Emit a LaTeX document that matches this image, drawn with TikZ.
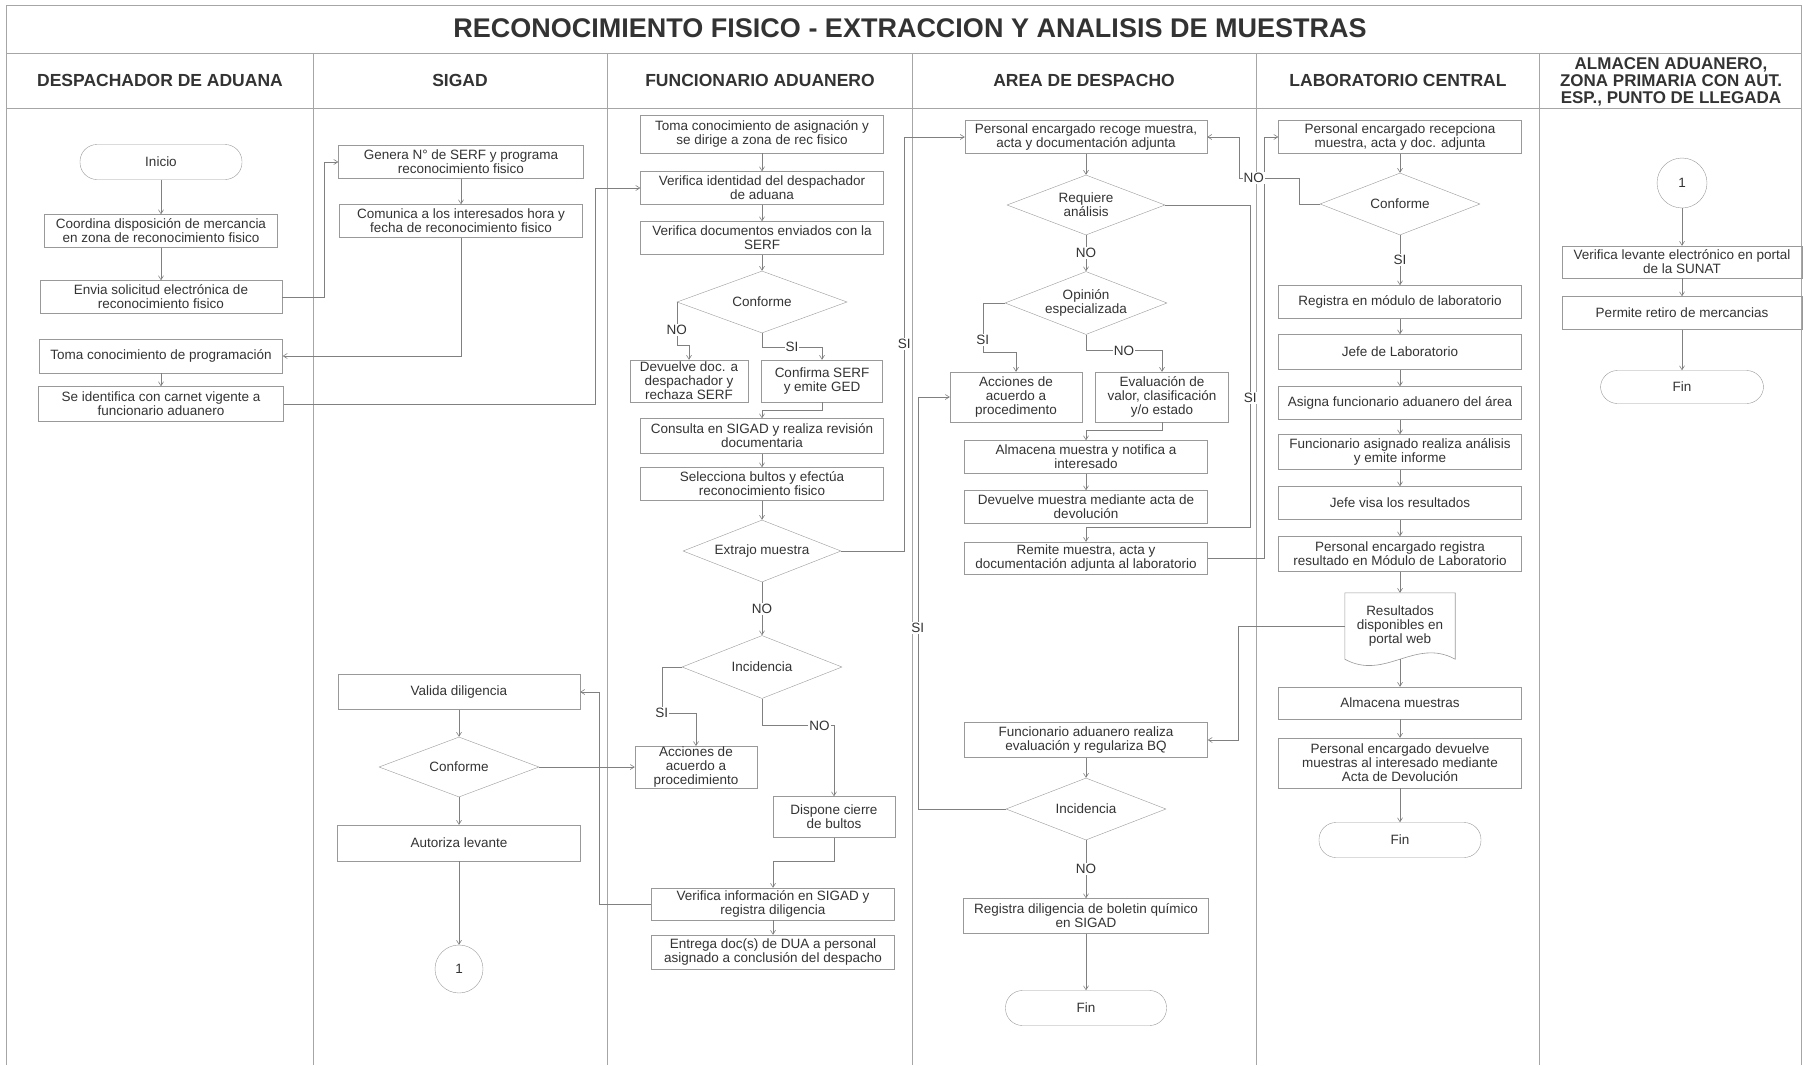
\documentclass[tikz,border=0pt]{standalone}
\usepackage{fontspec}
\setmainfont{Liberation Sans}
\usetikzlibrary{shapes.geometric,arrows.meta}

\definecolor{txt}{gray}{0.2}
\definecolor{boxgray}{gray}{0.6}
\definecolor{linegray}{gray}{0.5}
\definecolor{lanegray}{gray}{0.65}

\newcommand{\boxfont}{\fontsize{13.5}{14}\selectfont}
\newcommand{\headfont}{\fontsize{17.5}{20}\selectfont\bfseries}
\newcommand{\titlefont}{\fontsize{27}{30}\selectfont\bfseries}

\tikzset{
  box/.style={draw=boxgray, rectangle, align=center, inner sep=0.5pt,
    minimum width=243pt, minimum height=33pt, font=\boxfont},
  sbox/.style={box, minimum width=121pt, minimum height=42pt},
  decision/.style={draw=boxgray, diamond, aspect=2.6, inner sep=0pt, align=center,
    minimum width=160pt, minimum height=62pt, font=\boxfont},
  terminal/.style={draw=boxgray, rectangle, rounded corners=17pt,
    minimum width=162pt, minimum height=35pt, font=\boxfont},
  connector/.style={draw=boxgray, circle, minimum size=48pt, font=\boxfont},
  docnode/.style={rectangle, align=center, inner sep=0.5pt,
    minimum width=110pt, minimum height=66pt, font=\boxfont},
  boxline/.style={draw=boxgray, line width=0.6pt},
  lbl/.style={fill=white, inner sep=1pt, font=\boxfont},
  arr/.style={draw=linegray, line width=0.6pt, -{Straight Barb[length=4pt,width=5pt]}},
  lane/.style={draw=lanegray, line width=0.8pt},
  head/.style={font=\headfont, align=center}
}

\begin{document}
\begin{tikzpicture}[x=1pt, y=-1pt, text=txt]
\useasboundingbox (0,0) rectangle (1803,1065);

% lanes
\draw[lane] (6,1065) -- (6,5) -- (1801,5) -- (1801,1065);
\draw[lane] (6,53) -- (1801,53);
\draw[lane] (6,108) -- (1801,108);
\foreach \x in {313,607,912,1256,1539}
  \draw[lane] (\x,53) -- (\x,1065);

\node[font=\titlefont] (title) at (910,28) {RECONOCIMIENTO FISICO - EXTRACCION Y ANALISIS DE MUESTRAS};
\node[head] (hdesp) at (160,80) {DESPACHADOR DE ADUANA};
\node[head] (hsigad) at (460,80) {SIGAD};
\node[head] (hfunc) at (760,80) {FUNCIONARIO ADUANERO};
\node[head] (harea) at (1084,80) {AREA DE DESPACHO};
\node[head] (hlab) at (1398,80) {LABORATORIO CENTRAL};
\node[head, font=\fontsize{17}{17}\selectfont\bfseries] (halm) at (1671,82)
  {ALMACEN ADUANERO,\\ZONA PRIMARIA CON AUT.\\ESP., PUNTO DE LLEGADA};

% despachador de aduana
\node[terminal] (ini) at (161,162) {Inicio};
\node[box, minimum width=233pt] (coord) at (161,231) {Coordina disposición de mercancia\\en zona de reconocimiento fisico};
\node[box, minimum width=242pt] (envia) at (161,297) {Envia solicitud electrónica de\\reconocimiento fisico};
\node[box, minimum height=34pt] (tomaprog) at (161,356) {Toma conocimiento de programación};
\node[box, minimum width=245pt, minimum height=35pt] (ident) at (161,404) {Se identifica con carnet vigente a\\funcionario aduanero};

% sigad
\node[box, minimum width=245pt] (genera) at (461,162) {Genera N° de SERF y programa\\reconocimiento fisico};
\node[box] (comunica) at (461,221) {Comunica a los interesados hora y\\fecha de reconocimiento fisico};
\node[box, minimum width=242pt, minimum height=35pt] (valida) at (459,692) {Valida diligencia};
\node[decision, minimum height=60pt] (confsig) at (459,767) {Conforme};
\node[box, minimum height=36pt] (autoriza) at (459,843) {Autoriza levante};
\node[connector] (uno) at (459,969) {1};

% funcionario aduanero
\node[box, minimum height=38pt] (tomaasig) at (762,134) {Toma conocimiento de asignación y\\se dirige a zona de rec fisico};
\node[box] (verid) at (762,188) {Verifica identidad del despachador\\de aduana};
\node[box] (verdoc) at (762,238) {Verifica documentos enviados con la\\SERF};
\node[decision, minimum width=170pt] (confdoc) at (762,302) {Conforme};
\node[sbox, minimum width=118pt] (devdoc) at (689,381) {Devuelve doc. a\\despachador y\\rechaza SERF};
\node[sbox] (confserf) at (822,381) {Confirma SERF\\y emite GED};
\node[box, minimum height=35pt] (consulta) at (762,436) {Consulta en SIGAD y realiza revisión\\documentaria};
\node[box] (selec) at (762,484) {Selecciona bultos y efectúa\\reconocimiento fisico};
\node[decision, minimum width=158pt] (extrajo) at (762,551) {Extrajo muestra};
\node[decision, minimum height=63pt] (incfun) at (762,667) {Incidencia};
\node[sbox, minimum width=122pt, minimum height=40pt] (accfun) at (696,767) {Acciones de\\acuerdo a\\procedimiento};
\node[sbox, minimum width=122pt, minimum height=41pt] (dispone) at (834,817) {Dispone cierre\\de bultos};
\node[box, minimum height=32pt] (verinfo) at (773,904) {Verifica información en SIGAD y\\registra diligencia};
\node[box, minimum height=34pt] (entrega) at (773,952) {Entrega doc(s) de DUA a personal\\asignado a conclusión del despacho};

% area de despacho
\node[box, minimum width=242pt] (recoge) at (1086,137) {Personal encargado recoge muestra,\\acta y documentación adjunta};
\node[decision, minimum width=158pt, minimum height=60pt] (requiere) at (1086,205) {Requiere\\análisis};
\node[decision, minimum width=162pt, minimum height=63pt] (opinion) at (1086,303) {Opinión\\especializada};
\node[sbox, minimum width=132pt, minimum height=50pt] (accarea) at (1016,397) {Acciones de\\acuerdo a\\procedimento};
\node[sbox, minimum width=133pt, minimum height=50pt] (evalua) at (1162,397) {Evaluación de\\valor, clasificación\\y/o estado};
\node[box] (almmue) at (1086,457) {Almacena muestra y notifica a\\interesado};
\node[box] (devmue) at (1086,507) {Devuelve muestra mediante acta de\\devolución};
\node[box, minimum height=32pt] (remite) at (1086,558) {Remite muestra, acta y\\documentación adjunta al laboratorio};
\node[box, minimum height=35pt] (funreal) at (1086,740) {Funcionario aduanero realiza\\evaluación y regulariza BQ};
\node[decision] (incarea) at (1086,809) {Incidencia};
\node[box, minimum width=245pt, minimum height=35pt] (regdil) at (1086,916) {Registra diligencia de boletin químico\\en SIGAD};
\node[terminal, minimum width=161pt] (finarea) at (1086,1008) {Fin};

% laboratorio central
\node[box] (recep) at (1400,137) {Personal encargado recepciona\\muestra, acta y doc. adjunta};
\node[decision] (conflab) at (1400,204) {Conforme};
\node[box] (regmod) at (1400,302) {Registra en módulo de laboratorio};
\node[box, minimum height=35pt] (jefe) at (1400,352) {Jefe de Laboratorio};
\node[box] (asigna) at (1400,403) {Asigna funcionario aduanero del área};
\node[box, minimum height=35pt] (funasig) at (1400,452) {Funcionario asignado realiza análisis\\y emite informe};
\node[box] (visa) at (1400,503) {Jefe visa los resultados};
\node[box, minimum height=35pt] (regres) at (1400,554) {Personal encargado registra\\resultado en Módulo de Laboratorio};
\node[docnode] (result) at (1400,626) {Resultados\\disponibles en\\portal web};
\draw[boxline] (result.north west) -- (result.north east) -- (result.south east)
  .. controls +(-40,-22) and +(40,22) .. (result.south west) -- cycle;
\node[box, minimum height=32pt] (almlab) at (1400,703) {Almacena muestras};
\node[box, minimum height=50pt] (devlab) at (1400,763) {Personal encargado devuelve\\muestras al interesado mediante\\Acta de Devolución};
\node[terminal] (finlab) at (1400,840) {Fin};

% almacen aduanero
\node[connector, minimum size=50pt] (unob) at (1682,183) {1};
\node[box, minimum width=240pt, minimum height=32pt] (verlev) at (1682,262) {Verifica levante electrónico en portal\\de la SUNAT};
\node[box, minimum width=240pt] (permite) at (1682,313) {Permite retiro de mercancias};
\node[terminal, minimum width=163pt, minimum height=33pt] (finalm) at (1682,387) {Fin};

% despachador
\draw[arr] (ini) -- (coord);
\draw[arr] (coord) -- (envia);
\draw[arr] (tomaprog) -- (ident);
\draw[arr] (envia.east) -- ++(42,0) |- (genera.west);
\draw[arr] (ident.east) -- ++(312,0) |- (verid.west);

% sigad
\draw[arr] (genera) -- (comunica);
\draw[arr] (comunica.south) |- (tomaprog.east);
\draw[arr] (valida) -- (confsig);
\draw[arr] (confsig) -- (autoriza);
\draw[arr] (autoriza) -- (uno);
\draw[arr] (confsig.east) -- (accfun.west);
\draw[arr] (verinfo.west) -- ++(-52,0) |- (valida.east);

% funcionario
\draw[arr] (tomaasig) -- (verid);
\draw[arr] (verid) -- (verdoc);
\draw[arr] (verdoc) -- (confdoc);
\draw[arr] (confdoc.west) -- ++(0,43) node[lbl, pos=0.65] {NO} -| (devdoc.north);
\draw[arr] (confdoc.south) -- ++(0,14) -| node[lbl, pos=0.25] {SI} (confserf.north);
\draw[arr] (confserf.south) -- ++(0,8) -| (consulta.north);
\draw[arr] (consulta) -- (selec);
\draw[arr] (selec) -- (extrajo);
\draw[arr] (extrajo.east) -- ++(63,0) |- node[lbl, pos=0.25] {SI} (recoge.west);
\draw[arr] (extrajo) -- node[lbl] {NO} (incfun);
\draw[arr] (incfun.west) -- ++(-20,0) -- ++(0,46) node[lbl] {SI} -| (accfun.north);
\draw[arr] (incfun.south) -- ++(0,27) -| node[lbl, pos=0.4] {NO} (dispone.north);
\draw[arr] (dispone.south) -- ++(0,24) -| (verinfo.north);
\draw[arr] (verinfo) -- (entrega);

% area de despacho
\draw[arr] (recoge) -- (requiere);
\draw[arr] (requiere) -- node[lbl] {NO} (opinion);
\draw[arr] (requiere.east) -- ++(85,0) -- ++(0,322) node[lbl, pos=0.6] {SI} -| (remite.north);
\draw[arr] (opinion.west) -- ++(-22,0) -- ++(0,49) node[lbl, pos=0.75] {SI} -| (accarea.north);
\draw[arr] (opinion.south) -- ++(0,16) -| node[lbl, pos=0.25] {NO} (evalua.north);
\draw[arr] (evalua.south) -- ++(0,8) -| (almmue.north);
\draw[arr] (almmue) -- (devmue);
\draw[arr] (remite.east) -- ++(57,0) |- (recep.west);
\draw[arr] (conflab.west) -- ++(-21,0) -- ++(0,-26) -- ++(-60,0) node[lbl, pos=0.75] {NO} |- (recoge.east);
\draw[arr] (funreal) -- (incarea);
\draw[arr] (incarea) -- node[lbl] {NO} (regdil);
\draw[arr] (regdil) -- (finarea);
\draw[arr] (incarea.west) -- ++(-88,0) |- node[lbl, pos=0.22] {SI} (accarea.west);
\draw[arr] (result.west) -- ++(-107,0) |- (funreal.east);

% laboratorio
\draw[arr] (recep) -- (conflab);
\draw[arr] (conflab) -- node[lbl] {SI} (regmod);
\foreach \a/\b in {regmod/jefe, jefe/asigna, asigna/funasig, funasig/visa,
    visa/regres, regres/result, result/almlab, almlab/devlab, devlab/finlab}
  \draw[arr] (\a) -- (\b);

% almacen
\foreach \a/\b in {unob/verlev, verlev/permite, permite/finalm}
  \draw[arr] (\a) -- (\b);
\end{tikzpicture}
\end{document}
